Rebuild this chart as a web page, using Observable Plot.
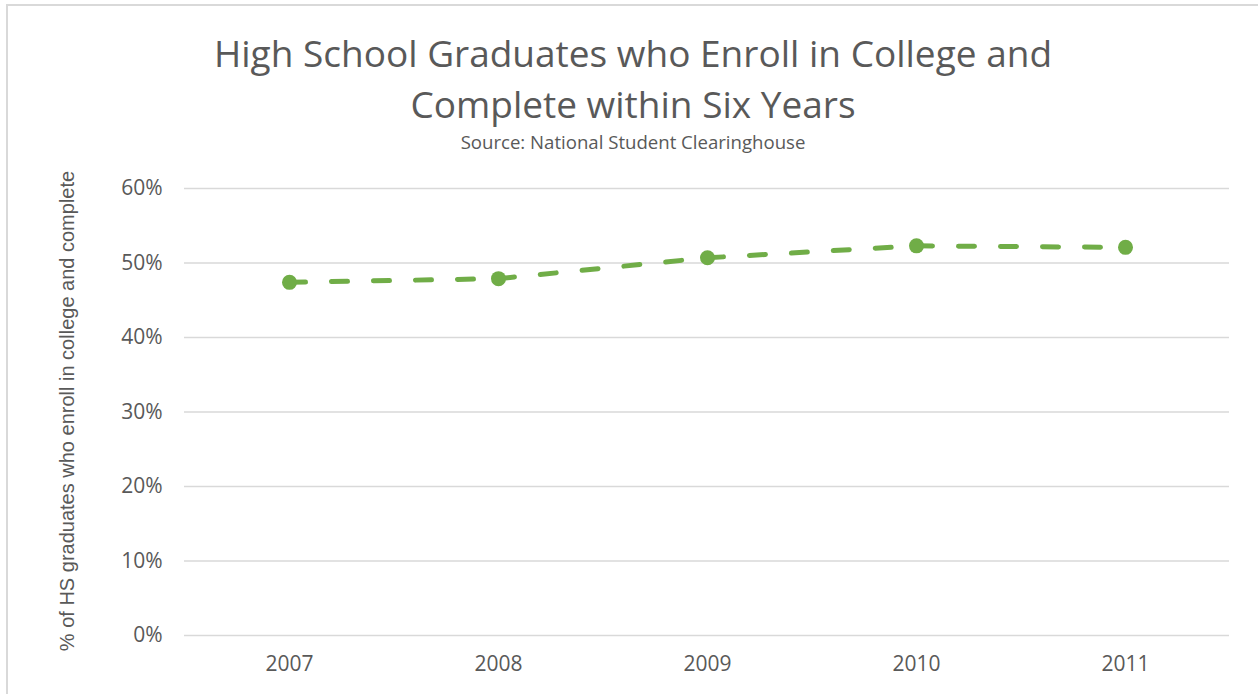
<!DOCTYPE html>
<html>
<head>
<meta charset="utf-8">
<script src="https://cdn.jsdelivr.net/npm/d3@7"></script>
<script src="https://cdn.jsdelivr.net/npm/@observablehq/plot@0.6"></script>
<style>
  html, body { margin: 0; padding: 0; background: #fff; }
  #wrap { position: relative; width: 1258px; height: 694px; overflow: hidden; font-family: "Open Sans", sans-serif; color: #595959; }
  #frame { position: absolute; left: 6px; top: 4px; width: 1300px; height: 800px; border-left: 2px solid #d9d9d9; border-top: 2px solid #d9d9d9; box-sizing: border-box; }
  #title { position: absolute; left: 0; width: 1266px; top: 27px; text-align: center; font-size: 37px; line-height: 51px; color: #595959; }
  #subtitle { position: absolute; left: 0; width: 1266px; top: 129px; text-align: center; font-size: 18.6px; color: #595959; }
  #ylabel { position: absolute; left: 67px; top: 411px; transform: translate(-50%, -50%) rotate(-90deg); white-space: nowrap; font-family: "Liberation Sans", Arial, sans-serif; font-size: 20px; color: #595959; }
  #chart { position: absolute; left: 0; top: 0; }
</style>
</head>
<body>
<div id="wrap">
  <div id="frame"></div>
  <div id="chart"></div>
  <div id="title">High School Graduates who Enroll in College and<br>Complete within Six Years</div>
  <div id="subtitle">Source: National Student Clearinghouse</div>
  <div id="ylabel">% of HS graduates who enroll in college and complete</div>
</div>
<script>
const years = ["2007", "2008", "2009", "2010", "2011"];
const rates = [0.474, 0.479, 0.507, 0.523, 0.521];
const yTicks = [0, 0.1, 0.2, 0.3, 0.4, 0.5, 0.6];

const points = years.map((y, i) => ({year: y, rate: rates[i]}));
const segments = years.slice(1).map((y, i) => ({
  x1: years[i], y1: rates[i], x2: y, y2: rates[i + 1]
}));

const green = "#70ad47";

const plot = Plot.plot({
  width: 1258,
  height: 694,
  marginLeft: 184,
  marginRight: 29,
  marginTop: 188,
  marginBottom: 59,
  style: { fontFamily: "'Open Sans', sans-serif", fontSize: "21px", color: "#595959", background: "transparent" },
  x: { type: "point", domain: years, padding: 0.5, label: null },
  y: { domain: [0, 0.6], label: null },
  marks: [
    Plot.ruleY(yTicks, { stroke: "#d9d9d9", strokeWidth: 1.5 }),
    Plot.axisY(yTicks, { tickSize: 0, tickPadding: 22, tickFormat: d3.format(".0%"), label: null, fontSize: 21 }),
    Plot.axisX(years, { tickSize: 0, tickPadding: 21, label: null, fontSize: 21 }),
    Plot.link(segments, {
      x1: "x1", y1: "y1", x2: "x2", y2: "y2",
      stroke: green, strokeWidth: 5, strokeDasharray: "16 26", strokeLinecap: "round"
    }),
    Plot.dot(points, { x: "year", y: "rate", r: 7.5, fill: green, stroke: "none" })
  ]
});
document.getElementById("chart").appendChild(plot);
</script>
</body>
</html>
